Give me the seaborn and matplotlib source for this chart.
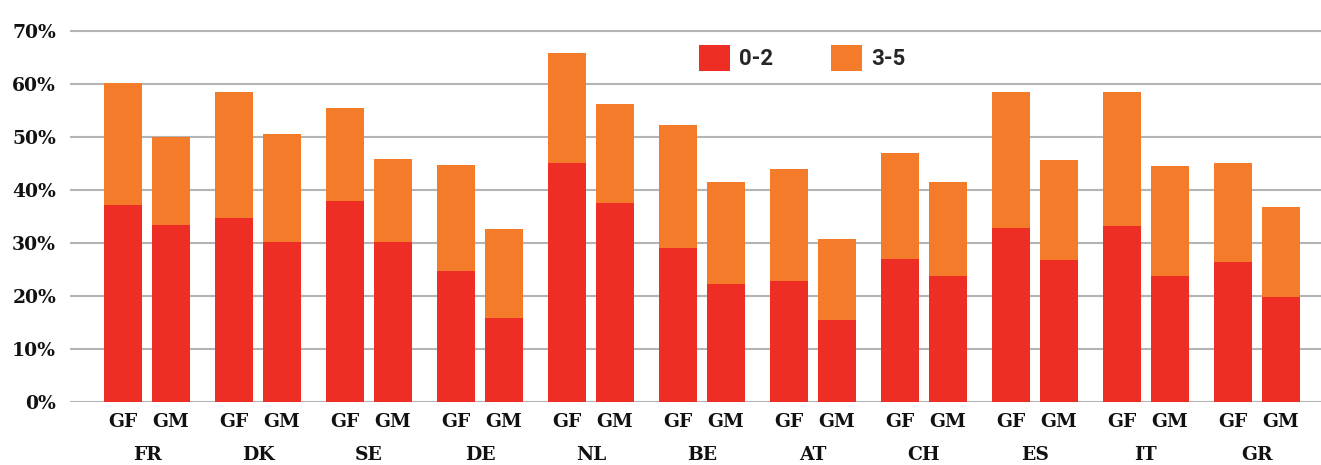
import numpy as np
import pandas as pd
import matplotlib
matplotlib.use("Agg")
import matplotlib.pyplot as plt
import seaborn as sns
from matplotlib.patches import Patch
from matplotlib.transforms import blended_transform_factory

# Share of children (%) by age band, per country and group
countries = ["FR", "DK", "SE", "DE", "NL", "BE", "AT", "CH", "ES", "IT", "GR"]
groups = ["GF", "GM"]
gf_02 = [37.2, 34.7, 37.9, 24.7, 45.1, 29.0, 22.8, 27.0, 32.8, 33.2, 26.4]
gf_35 = [23.0, 23.8, 17.6, 20.0, 20.8, 23.3, 21.2, 20.0, 25.7, 25.3, 18.7]
gm_02 = [33.4, 30.2, 30.2, 15.8, 37.6, 22.2, 15.4, 23.8, 26.8, 23.8, 19.8]
gm_35 = [16.6, 20.4, 15.7, 16.8, 18.7, 19.3, 15.3, 17.7, 18.9, 20.7, 17.0]
series = ["0-2", "3-5"]
yticks = [0, 10, 20, 30, 40, 50, 60, 70]

RED = "#EE2E24"
ORANGE = "#F37B2A"
GRID = "#b4b4b4"
TEXT = "#111111"

df = pd.DataFrame({
    "country": countries * 2,
    "group": ["GF"] * len(countries) + ["GM"] * len(countries),
    "age_02": gf_02 + gm_02,
    "age_35": gf_35 + gm_35,
})
df["total"] = df["age_02"] + df["age_35"]

sns.set_theme(style="white")
plt.rcParams["font.family"] = ["DejaVu Serif"]

W, H = 1321, 465
fig = plt.figure(figsize=(W / 100, H / 100), dpi=100)
y0_px, px_per_pct = 401.7, 5.29
ymax = 71
ax_h = ymax * px_per_pct
ax = fig.add_axes([70 / W, (H - y0_px) / H, 1 - 70 / W, ax_h / H])

common = dict(x="country", hue="group", order=countries, hue_order=groups,
              width=0.865, gap=0.21, errorbar=None, saturation=1,
              legend=False, ax=ax, linewidth=0, zorder=2)
sns.barplot(data=df, y="total", palette=[ORANGE, ORANGE], **common)
sns.barplot(data=df, y="age_02", palette=[RED, RED], **common)

label_font = dict(fontsize=13.5, fontweight="bold", color=TEXT)

ax.set_ylim(0, ymax)
ax.set_xlim(-0.694, 10.577)
ax.set_yticks(yticks)
ax.set_yticklabels([f"{v}%" for v in yticks], **label_font)
ax.yaxis.grid(True, color=GRID, linewidth=1.5, zorder=0)
ax.xaxis.grid(False)
ax.set_axisbelow(True)
for s in ax.spines.values():
    s.set_visible(False)
ax.tick_params(axis="y", length=0, pad=10)
ax.tick_params(axis="x", length=0, pad=32)
ax.set_xticks(range(len(countries)))
ax.set_xticklabels(countries, **label_font)
ax.set_xlabel("")
ax.set_ylabel("")

# Group labels under each bar
trans = blended_transform_factory(ax.transData, ax.transAxes)
offset = 0.865 / 4
for i, _ in enumerate(countries):
    for j, g in enumerate(groups):
        ax.text(i + (j * 2 - 1) * offset, -20 / ax_h, g, transform=trans,
                ha="center", va="center", **label_font)

handles = [Patch(facecolor=RED, edgecolor="none"),
           Patch(facecolor=ORANGE, edgecolor="none")]
fig.legend(handles, series, loc="upper left", bbox_to_anchor=(699 / W, 1 - 45 / H),
           ncol=2, frameon=False, borderpad=0, borderaxespad=0,
           handlelength=1.4, handleheight=1.4, handletextpad=0.4,
           columnspacing=2.6, prop={"family": "Roboto", "weight": "bold", "size": 16})

fig.savefig("out.png", dpi=100)
